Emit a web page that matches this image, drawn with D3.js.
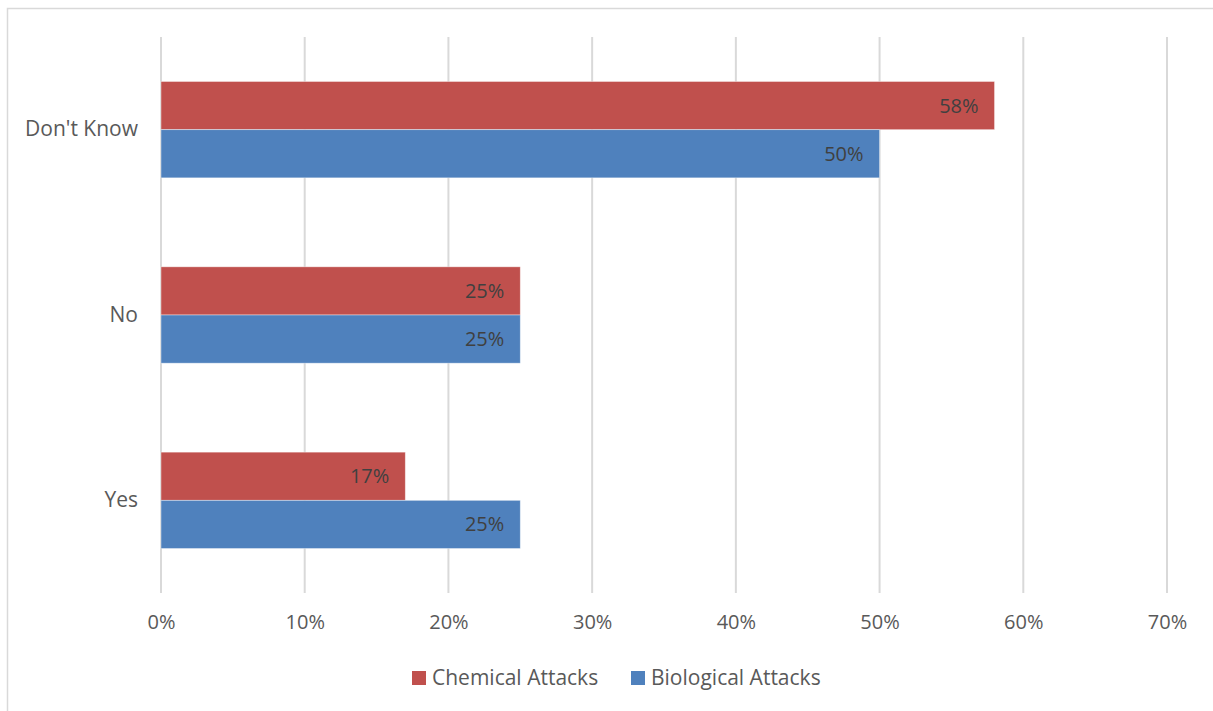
<!DOCTYPE html>
<html>
<head>
<meta charset="utf-8">
<script src="https://cdn.jsdelivr.net/npm/d3@7"></script>
<style>
  body { margin: 0; background: #fff; }
  svg text { font-family: "Open Sans", sans-serif; }
</style>
</head>
<body>
<div id="viz"></div>
<script>
// data
var categories = ["Don't Know", "No", "Yes"];
var seriesNames = ["Chemical Attacks", "Biological Attacks"];
var chemical = [0.58, 0.25, 0.17];
var biological = [0.50, 0.25, 0.25];
var xTicks = [0, 0.1, 0.2, 0.3, 0.4, 0.5, 0.6, 0.7];
var colors = ["#C0504D", "#4F81BD"];

var width = 1213, height = 711;
var margin = {top: 37, right: 46, bottom: 118, left: 161};
var innerW = width - margin.left - margin.right;
var innerH = height - margin.top - margin.bottom;

var svg = d3.select("#viz").append("svg")
    .attr("width", width)
    .attr("height", height);

// outer chart border
svg.append("rect")
    .attr("x", 7.5).attr("y", 8.5)
    .attr("width", width + 10).attr("height", height + 10)
    .attr("fill", "none")
    .attr("stroke", "#d9d9d9")
    .attr("stroke-width", 1.5);

var g = svg.append("g")
    .attr("transform", "translate(" + margin.left + "," + margin.top + ")");

var x = d3.scaleLinear().domain([0, 0.7]).range([0, innerW]);
var y = d3.scaleBand().domain(categories).range([0, innerH]).paddingInner(0.48).paddingOuter(0.24);
var ySub = d3.scaleBand().domain(seriesNames).range([0, y.bandwidth()]);

// gridlines
g.append("g").selectAll("line")
    .data(xTicks)
    .enter().append("line")
    .attr("x1", function(d) { return x(d); })
    .attr("x2", function(d) { return x(d); })
    .attr("y1", 0).attr("y2", innerH)
    .attr("stroke", "#d9d9d9")
    .attr("stroke-width", 2);

// x axis labels
var xAxis = d3.axisBottom(x)
    .tickValues(xTicks)
    .tickFormat(d3.format(".0%"))
    .tickSize(0)
    .tickPadding(22);
var xg = g.append("g")
    .attr("transform", "translate(0," + innerH + ")")
    .call(xAxis);
xg.select(".domain").remove();
xg.selectAll("text").attr("fill", "#595959").style("font-size", "20px");

// y axis labels
var yAxis = d3.axisLeft(y).tickSize(0).tickPadding(23);
var yg = g.append("g").call(yAxis);
yg.select(".domain").remove();
yg.selectAll("text").attr("fill", "#595959").style("font-size", "21px");

var rows = categories.map(function(c, i) {
  return [
    {cat: c, series: seriesNames[0], value: chemical[i], color: colors[0]},
    {cat: c, series: seriesNames[1], value: biological[i], color: colors[1]}
  ];
});
var bars = d3.merge(rows);

g.append("g").selectAll("rect")
    .data(bars)
    .enter().append("rect")
    .attr("x", x(0))
    .attr("y", function(d) { return y(d.cat) + ySub(d.series); })
    .attr("width", function(d) { return x(d.value) - x(0); })
    .attr("height", ySub.bandwidth())
    .attr("fill", function(d) { return d.color; })
    .attr("stroke", "#ffffff")
    .attr("stroke-opacity", 0.5)
    .attr("stroke-width", 0.8);

g.append("g").selectAll("text")
    .data(bars)
    .enter().append("text")
    .attr("x", function(d) { return x(d.value) - 16; })
    .attr("y", function(d) { return y(d.cat) + ySub(d.series) + ySub.bandwidth() / 2; })
    .attr("dy", "0.35em")
    .attr("text-anchor", "end")
    .attr("fill", "#404040")
    .style("font-size", "20px")
    .text(function(d) { return d3.format(".0%")(d.value); });

// legend
var legend = svg.append("g").attr("transform", "translate(0,678)");
var legendX = [412, 631];
seriesNames.forEach(function(name, i) {
  var item = legend.append("g").attr("transform", "translate(" + legendX[i] + ",0)");
  item.append("rect")
      .attr("x", 0).attr("y", -7)
      .attr("width", 14).attr("height", 14)
      .attr("fill", colors[i]);
  item.append("text")
      .attr("x", 20).attr("y", 0)
      .attr("dy", "0.35em")
      .attr("fill", "#595959")
      .style("font-size", "21px")
      .text(name);
});
</script>
</body>
</html>
